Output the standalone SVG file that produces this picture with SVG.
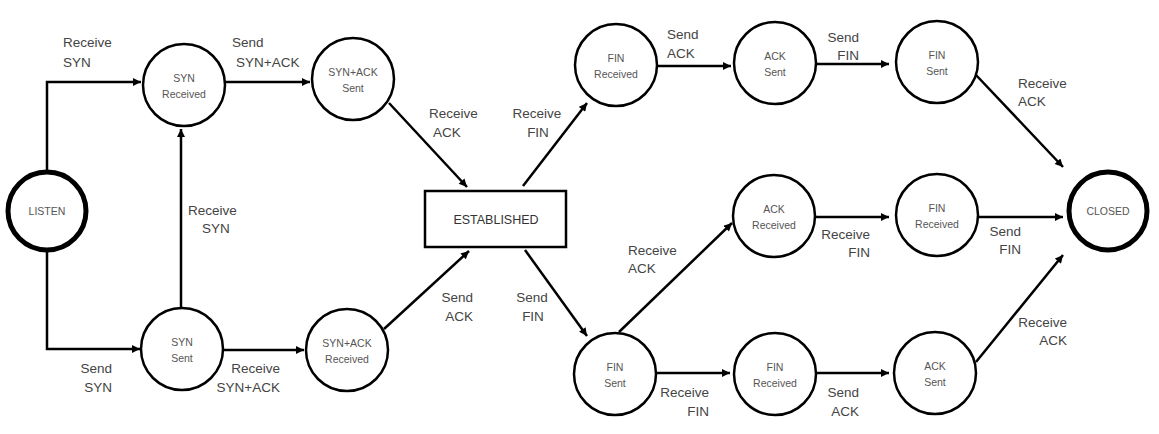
<svg xmlns="http://www.w3.org/2000/svg" width="1159" height="434" viewBox="0 0 1159 434">
<style>
.st{fill:#fff;stroke:#000;stroke-width:2.5}
.tk{fill:#fff;stroke:#000;stroke-width:5}
.nt{font-family:"Liberation Sans",Arial,sans-serif;font-size:10.5px;fill:#555;text-anchor:middle}
.et{font-family:"Liberation Sans",Arial,sans-serif;font-size:12.5px;fill:#333;text-anchor:middle}
.lb{font-family:"Liberation Sans",Arial,sans-serif;font-size:13.5px;fill:#444}
.c{fill:none;stroke:#000;stroke-width:2.5;marker-end:url(#ah)}
.e{text-anchor:end}
.m{text-anchor:middle}
</style>
<defs>
<marker id="ah" viewBox="0 0 10 10" refX="10" refY="5" markerWidth="9" markerHeight="8" markerUnits="userSpaceOnUse" orient="auto"><path d="M0,0 L10,5 L0,10 z" fill="#000"/></marker>
</defs>
<rect width="1159" height="434" fill="#fff"/>
<g id="connectors">
<polyline class="c" points="47,171 47,82 141,82"/>
<polyline class="c" points="47,251 47,349 140,349"/>
<line class="c" x1="181" y1="308" x2="181" y2="129"/>
<line class="c" x1="225" y1="82" x2="310" y2="82"/>
<line class="c" x1="223" y1="350" x2="304" y2="350"/>
<line class="c" x1="389" y1="103" x2="467" y2="187"/>
<line class="c" x1="384" y1="329" x2="469" y2="251"/>
<line class="c" x1="523" y1="186" x2="587" y2="103"/>
<line class="c" x1="525" y1="250" x2="587" y2="336"/>
<line class="c" x1="657" y1="66" x2="731" y2="66"/>
<line class="c" x1="816" y1="64" x2="889" y2="64"/>
<line class="c" x1="976" y1="75" x2="1063" y2="167"/>
<line class="c" x1="619" y1="332" x2="732" y2="223"/>
<line class="c" x1="656" y1="373" x2="730" y2="373"/>
<line class="c" x1="815" y1="217" x2="889" y2="217"/>
<line class="c" x1="978" y1="217" x2="1063" y2="217"/>
<line class="c" x1="816" y1="373" x2="889" y2="373"/>
<line class="c" x1="976" y1="362" x2="1063" y2="255"/>
</g>
<g id="listen"><circle class="tk" cx="47" cy="211" r="39"/><text class="nt" x="47" y="215">LISTEN</text></g>
<g id="syn-received"><circle class="st" cx="184" cy="85" r="41"/><text class="nt" x="184" y="82">SYN</text><text class="nt" x="184" y="98">Received</text></g>
<g id="syn-sent"><circle class="st" cx="182" cy="349" r="41"/><text class="nt" x="182" y="346">SYN</text><text class="nt" x="182" y="362">Sent</text></g>
<g id="synack-sent"><circle class="st" cx="353" cy="79" r="41"/><text class="nt" x="353" y="76">SYN+ACK</text><text class="nt" x="353" y="92">Sent</text></g>
<g id="synack-received"><circle class="st" cx="347" cy="350" r="41"/><text class="nt" x="347" y="347">SYN+ACK</text><text class="nt" x="347" y="363">Received</text></g>
<g id="established"><rect class="st" x="425" y="191" width="141" height="56"/><text class="et" x="496" y="224">ESTABLISHED</text></g>
<g id="fin-received-1"><circle class="st" cx="616" cy="65" r="41"/><text class="nt" x="616" y="62">FIN</text><text class="nt" x="616" y="78">Received</text></g>
<g id="ack-sent-1"><circle class="st" cx="775" cy="63" r="41"/><text class="nt" x="775" y="60">ACK</text><text class="nt" x="775" y="76">Sent</text></g>
<g id="fin-sent-1"><circle class="st" cx="937" cy="62" r="41"/><text class="nt" x="937" y="59">FIN</text><text class="nt" x="937" y="75">Sent</text></g>
<g id="ack-received"><circle class="st" cx="774" cy="216" r="41"/><text class="nt" x="774" y="213">ACK</text><text class="nt" x="774" y="229">Received</text></g>
<g id="fin-received-2"><circle class="st" cx="937" cy="215" r="41"/><text class="nt" x="937" y="212">FIN</text><text class="nt" x="937" y="228">Received</text></g>
<g id="fin-sent-2"><circle class="st" cx="615" cy="374" r="41"/><text class="nt" x="615" y="371">FIN</text><text class="nt" x="615" y="387">Sent</text></g>
<g id="fin-received-3"><circle class="st" cx="775" cy="374" r="41"/><text class="nt" x="775" y="371">FIN</text><text class="nt" x="775" y="387">Received</text></g>
<g id="ack-sent-2"><circle class="st" cx="935" cy="373" r="41"/><text class="nt" x="935" y="370">ACK</text><text class="nt" x="935" y="386">Sent</text></g>
<g id="closed"><circle class="tk" cx="1108" cy="211" r="39"/><text class="nt" x="1108" y="215">CLOSED</text></g>
<g id="labels">
<text class="lb" x="63" y="47">Receive</text><text class="lb" x="63" y="67">SYN</text>
<text class="lb" x="232" y="47">Send</text><text class="lb" x="236" y="67">SYN+ACK</text>
<text class="lb" x="188" y="215">Receive</text><text class="lb" x="202" y="233">SYN</text>
<text class="lb e" x="112" y="373">Send</text><text class="lb e" x="112" y="392">SYN</text>
<text class="lb e" x="280" y="373">Receive</text><text class="lb e" x="280" y="392">SYN+ACK</text>
<text class="lb" x="429" y="118">Receive</text><text class="lb" x="433" y="137">ACK</text>
<text class="lb m" x="537" y="118">Receive</text><text class="lb m" x="538" y="137">FIN</text>
<text class="lb e" x="473" y="302">Send</text><text class="lb e" x="473" y="321">ACK</text>
<text class="lb m" x="532" y="302">Send</text><text class="lb m" x="533" y="321">FIN</text>
<text class="lb" x="667" y="39">Send</text><text class="lb" x="667" y="58">ACK</text>
<text class="lb e" x="859" y="42">Send</text><text class="lb e" x="859" y="60">FIN</text>
<text class="lb" x="1018" y="88">Receive</text><text class="lb" x="1018" y="106">ACK</text>
<text class="lb" x="628" y="255">Receive</text><text class="lb" x="628" y="273">ACK</text>
<text class="lb e" x="870" y="239">Receive</text><text class="lb e" x="870" y="257">FIN</text>
<text class="lb e" x="709" y="397">Receive</text><text class="lb e" x="709" y="416">FIN</text>
<text class="lb e" x="859" y="397">Send</text><text class="lb e" x="859" y="416">ACK</text>
<text class="lb e" x="1021" y="236">Send</text><text class="lb e" x="1021" y="254">FIN</text>
<text class="lb e" x="1067" y="327">Receive</text><text class="lb e" x="1067" y="345">ACK</text>
</g>
</svg>
